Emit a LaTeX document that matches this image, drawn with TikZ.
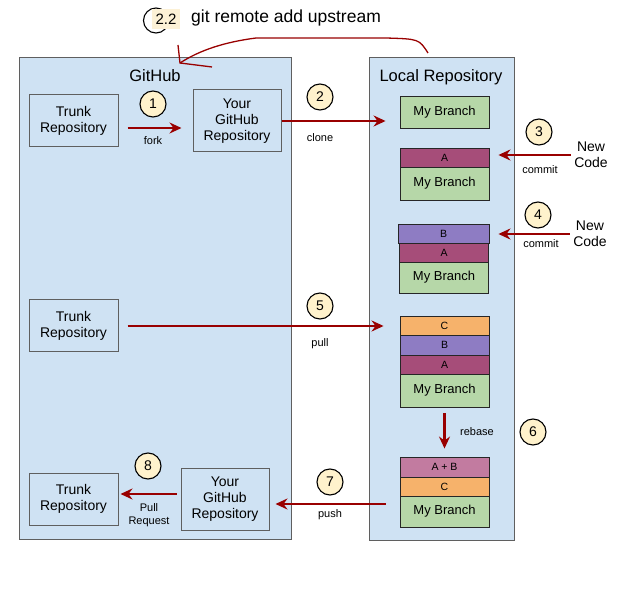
\documentclass[tikz,border=0pt]{standalone}
\usepackage{fontspec}
\setmainfont{Liberation Sans}
\usetikzlibrary{arrows.meta}

\definecolor{panelblue}{HTML}{CFE2F3}
\definecolor{boxgray}{HTML}{5F5F5F}
\definecolor{flowred}{HTML}{990000}
\definecolor{numyellow}{HTML}{FFF2CC}
\definecolor{hilite}{HTML}{FCF1D6}
\definecolor{branchgreen}{HTML}{B6D7A8}
\definecolor{commitA}{HTML}{A64D79}
\definecolor{commitB}{HTML}{8E7CC3}
\definecolor{commitC}{HTML}{F6B26B}
\definecolor{commitAB}{HTML}{C27BA0}

\begin{document}
\begin{tikzpicture}[x=1pt,y=-1pt]
 \tikzstyle{every node}=[font=\fontsize{14}{16}\selectfont]
 \tikzstyle{panel}=[draw=boxgray,fill=panelblue,line width=1pt]
 \tikzstyle{repo}=[draw=boxgray,fill=panelblue,line width=1pt,align=center,
   minimum width=89pt,minimum height=52pt,inner sep=0pt]
 \tikzstyle{layer}=[draw=black!85,line width=0.9pt,minimum width=89pt,inner sep=0pt,
   font=\fontsize{10.5}{12}\selectfont]
 \tikzstyle{branch}=[layer,fill=branchgreen,font=\fontsize{13}{15}\selectfont]
 \tikzstyle{num}=[circle,draw=black,line width=1.1pt,fill=numyellow,
   minimum size=26pt,inner sep=0pt]
 \tikzstyle{lbl}=[font=\fontsize{11}{13}\selectfont]
 \tikzstyle{flow}=[draw=flowred,line width=2.8pt,
   every edge/.append style={-{Stealth[length=12pt,width=11pt,inset=4pt]}}]
 \tikzstyle{hand}=[draw=flowred,line width=1.3pt]

 \fill[white] (0,0) rectangle (641,599);
 \useasboundingbox (0,0) rectangle (641,599);

 % the two areas
 \draw[panel] (19,58) rectangle (291,539);
 \draw[panel] (369,58) rectangle (514,540);
 \node[font=\fontsize{16.5}{18}\selectfont] (gh) at (155,76) {GitHub};
 \node[font=\fontsize{16.5}{18}\selectfont] (lr) at (441,77) {Local Repository};

 % github side
 \node[repo] (t1) at (73.5,121) {Trunk\\Repository};
 \node[repo,minimum width=88pt,minimum height=62pt] (y1) at (237,121) {Your\\GitHub\\Repository};
 \node[repo] (t2) at (73.5,326) {Trunk\\Repository};
 \node[repo] (t3) at (73.5,499) {Trunk\\Repository};
 \node[repo,minimum width=88pt,minimum height=62pt] (y2) at (225,499) {Your\\GitHub\\Repository};

 % local stacks
 \node[branch,minimum height=32pt] (mb1) at (444.5,112) {My Branch};

 \node[layer,fill=commitA,minimum height=19pt] (a2) at (444.5,157.5) {A};
 \node[branch,minimum height=33pt] (mb2) at (444.5,183.5) {My Branch};

 \node[layer,fill=commitB,minimum height=19pt,minimum width=91pt] (b3) at (443.5,233.5) {B};
 \node[layer,fill=commitA,minimum height=19pt] (a3) at (444,252.5) {A};
 \node[branch,minimum height=31pt] (mb3) at (444,277.5) {My Branch};

 \node[layer,fill=commitC,minimum height=19pt] (c4) at (444.5,325.5) {C};
 \node[layer,fill=commitB,minimum height=20pt] (b4) at (444.5,345) {B};
 \node[layer,fill=commitA,minimum height=19pt] (a4) at (444.5,364.5) {A};
 \node[branch,minimum height=33pt] (mb4) at (444.5,390.5) {My Branch};

 \node[layer,fill=commitAB,minimum height=20pt] (ab5) at (444.5,467) {A + B};
 \node[layer,fill=commitC,minimum height=19pt] (c5) at (444.5,486.5) {C};
 \node[branch,minimum height=31pt] (mb5) at (444.5,511.5) {My Branch};

 % new code
 \node[align=center] (nc3) at (591,155) {New\\Code};
 \node[align=center] (nc4) at (590,234) {New\\Code};

 % steps
 \node[num] (n1) at (153,104) {1};
 \node[num] (n2) at (320,97) {2};
 \node[num] (n3) at (539,132) {3};
 \node[num] (n4) at (538,215) {4};
 \node[num] (n5) at (320,306) {5};
 \node[num] (n6) at (533,432) {6};
 \node[num] (n7) at (330,482) {7};
 \node[num] (n8) at (148,466) {8};

 % labels
 \node[lbl] (lfork) at (153,141) {fork};
 \node[lbl] (lclone) at (320,138) {clone};
 \node[lbl] (lcommit3) at (540,170) {commit};
 \node[lbl] (lcommit4) at (541,244) {commit};
 \node[lbl] (lpull) at (320,344) {pull};
 \node[lbl] (lrebase) at (477,432) {rebase};
 \node[lbl] (lpush) at (330,515) {push};
 \node[lbl,align=center] (lpr) at (149,515) {Pull\\Request};

 % upstream note
 \draw[black,line width=1.1pt] (156,20.5) circle (12.5);
 \fill[hilite] (152,9) rectangle (180,29);
 \node[font=\fontsize{15}{17}\selectfont] (n22) at (166,19) {2.2};
 \node[anchor=west,inner sep=0pt,font=\fontsize{17.5}{20}\selectfont] (up) at (191,18) {git remote add upstream};
 \coordinate (ups) at (428,53);
 \coordinate (upe) at (180,63);
 \draw[hand] (ups) .. controls (419,39) .. (386,38) -- (256,38)
   .. controls (225,42) and (200,50) .. (upe);
 \draw[hand] (178,45) -- (upe) -- (212,67);

 % flows
 \path[flow]
 ([yshift=-7pt]t1.east) edge[shorten <=9pt,shorten >=11pt] ([yshift=-7pt]y1.west)
 (y1.east) edge[shorten >=14pt] (y1.east -| mb1.west)
 (nc3.west) edge[shorten >=9pt] (nc3.west -| a2.east)
 (nc4.west) edge[shorten >=9pt] (nc4.west -| b3.east)
 (t2.east) edge[shorten <=9pt,shorten >=16pt] (t2.east -| c4.west)
 (mb4.south) edge[shorten <=6pt,shorten >=8pt] (ab5.north)
 ([yshift=-5pt]y2.east -| mb5.west) edge[shorten <=14pt,shorten >=6pt] ([yshift=-5pt]y2.east)
 ([yshift=5pt]y2.west) edge[shorten <=4pt,shorten >=2pt] ([yshift=5pt]t3.east)
 ;
\end{tikzpicture}
\end{document}
